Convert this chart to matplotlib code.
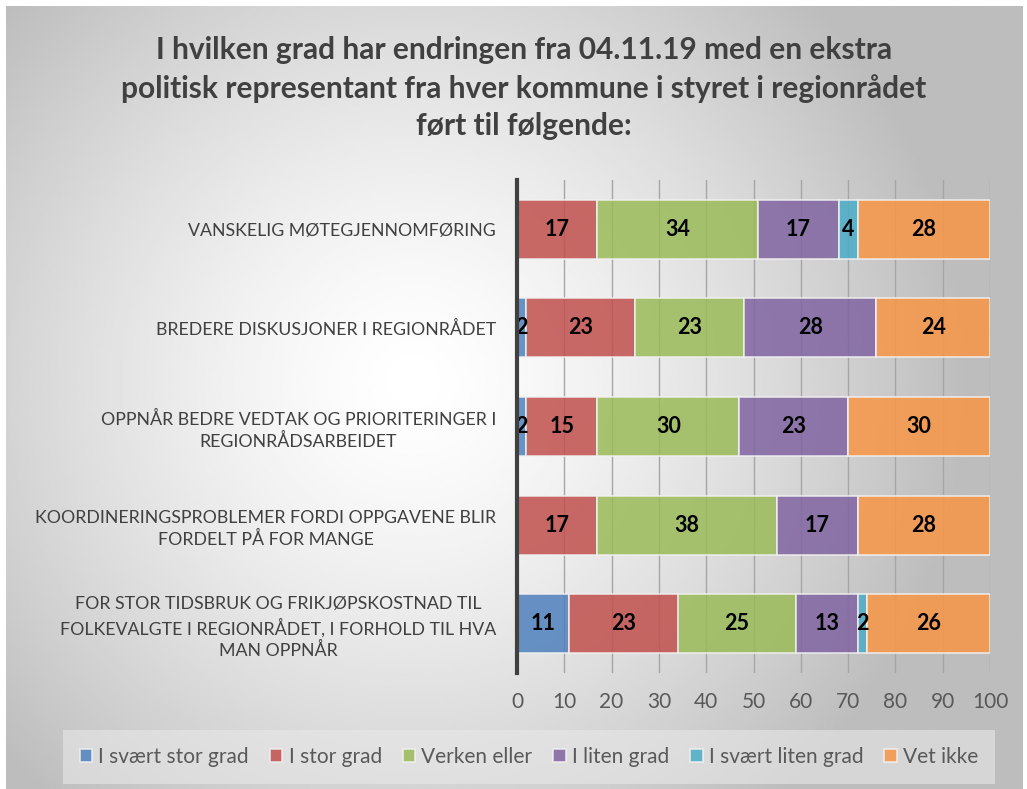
import numpy as np
import matplotlib.pyplot as plt

# Data (percent)
categories = [
    "VANSKELIG MØTEGJENNOMFØRING",
    "BREDERE DISKUSJONER I REGIONRÅDET",
    "OPPNÅR BEDRE VEDTAK OG PRIORITERINGER I\nREGIONRÅDSARBEIDET",
    "KOORDINERINGSPROBLEMER FORDI OPPGAVENE BLIR\nFORDELT PÅ FOR MANGE",
    "FOR STOR TIDSBRUK OG FRIKJØPSKOSTNAD TIL\nFOLKEVALGTE I REGIONRÅDET, I FORHOLD TIL HVA\nMAN OPPNÅR",
]
series_names = ["I svært stor grad", "I stor grad", "Verken eller",
                "I liten grad", "I svært liten grad", "Vet ikke"]
svaert_stor = [0, 2, 2, 0, 11]
stor = [17, 23, 15, 17, 23]
verken = [34, 23, 30, 38, 25]
liten = [17, 28, 23, 17, 13]
svaert_liten = [4, 0, 0, 0, 2]
vet_ikke = [28, 24, 30, 28, 26]
series = [svaert_stor, stor, verken, liten, svaert_liten, vet_ikke]
colors = ["#4F81BD", "#C0504D", "#9BBB59", "#8064A2", "#4BACC6", "#F79646"]
x_ticks = list(range(0, 101, 10))

title = ("I hvilken grad har endringen fra 04.11.19 med en ekstra\n"
         "politisk representant fra hver kommune i styret i regionrådet\n"
         "ført til følgende:")

plt.rcParams['font.family'] = ['Lato', 'DejaVu Sans']

fig = plt.figure(figsize=(10.27, 7.89), dpi=100)
fig.patch.set_facecolor('white')

# radial grey gradient background
bg = fig.add_axes([6 / 1027, 0, 1016 / 1027, 783 / 789], zorder=-10)
yy, xx = np.mgrid[0:1:300j, 0:1:400j]
d = np.sqrt(((xx - 0.40) * 1.3) ** 2 + ((yy - 0.52) * 1.0) ** 2)
val = np.clip(1.0 - 0.42 * d ** 1.4, 0.74, 1.0)
bg.imshow(val, cmap='gray', vmin=0, vmax=1, aspect='auto',
          extent=[0, 1, 0, 1], origin='lower', interpolation='bilinear')
bg.axis('off')

ax = fig.add_axes([517 / 1027, 116 / 789, 473 / 1027, 493 / 789])
ax.set_facecolor('none')

y = np.arange(len(categories))
left = np.zeros(len(categories))
for name, vals, col in zip(series_names, series, colors):
    vals = np.array(vals, dtype=float)
    bars = ax.barh(y, vals, left=left, height=0.6, color=col, alpha=0.85,
                   edgecolor='#F2F2F2', linewidth=1.2, label=name, zorder=3)
    labels = [str(int(v)) if v > 0 else '' for v in vals]
    ax.bar_label(bars, labels=labels, label_type='center', fontsize=15.5,
                 fontweight='bold', color='black', zorder=4)
    left += vals

ax.set_xlim(0, 100)
ax.set_ylim(len(categories) - 0.5, -0.5)
ax.set_xticks(x_ticks)
ax.set_yticks(y)
ax.set_yticklabels(categories, multialignment='center', fontsize=12.8,
                   color='#404040', linespacing=1.35)
ax.tick_params(axis='y', length=0, pad=15)
ax.tick_params(axis='x', length=0, pad=14, labelsize=15, labelcolor='#595959')
ax.grid(axis='x', color='#A6A6A6', linewidth=1.0, zorder=0)
for s in ['top', 'right', 'bottom']:
    ax.spines[s].set_visible(False)
ax.spines['left'].set_color('#404040')
ax.spines['left'].set_linewidth(3)
ax.spines['left'].set_zorder(5)

fig.text(0.51, 1 - 88 / 789, title, ha='center', va='center', fontsize=21.5,
         fontweight='bold', color='#404040', linespacing=1.4)

leg = fig.legend(loc='center', bbox_to_anchor=(0.515, 1 - 757 / 789), ncol=6,
                 fontsize=15, frameon=True, handlelength=0.6, handleheight=0.6,
                 handletextpad=0.3, columnspacing=1.0, borderpad=0.5)
leg.get_frame().set_facecolor('#E8E8E8')
leg.get_frame().set_alpha(0.6)
leg.get_frame().set_edgecolor('none')
leg.get_frame().set_boxstyle('square')
for t in leg.get_texts():
    t.set_color('#595959')

fig.savefig('out.png', dpi=100)
